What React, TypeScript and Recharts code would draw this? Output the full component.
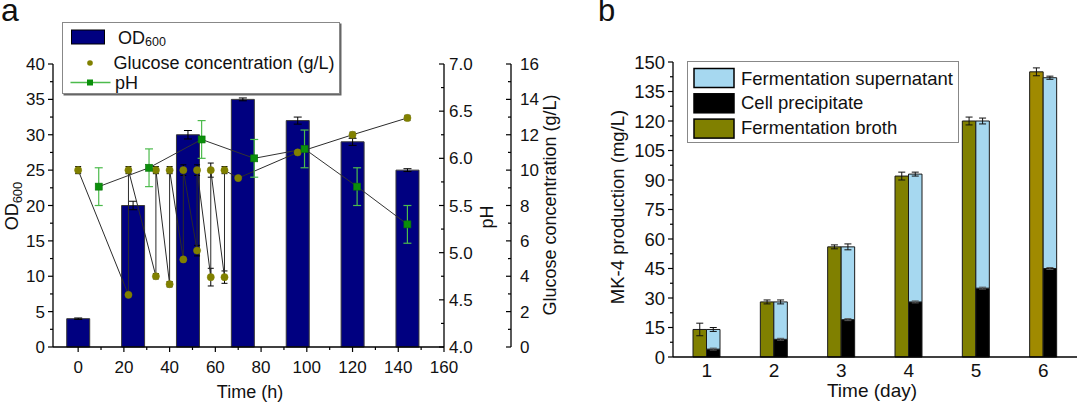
import React from 'react'
import { ComposedChart, BarChart, Bar, Line, XAxis, YAxis, ErrorBar, Legend, Cell } from 'recharts'

const FONT = '"Liberation Sans", Arial, Helvetica, sans-serif'

// ---- panel a: fermentation time course ----
const odTime = [0, 24, 48, 72, 96, 120, 144]
const odValues = [4, 20, 30, 35, 32, 29, 25]
const odErrors = [0.1, 0.6, 0.6, 0.2, 0.5, 0.5, 0.2]

const glucoseTime = [0, 22, 22, 34, 34, 40, 40, 46, 46, 52, 52, 58, 58, 64, 64, 70, 96, 120, 144]
const glucoseValues = [10, 2.95, 10, 4, 10, 3.55, 10, 4.95, 10, 5.45, 10, 3.95, 10, 3.95, 10, 9.55, 11, 12, 12.95]
const glucoseErrors = [0.2, 0.1, 0.2, 0.15, 0.2, 0.15, 0.2, 0.1, 0.3, 0.3, 0.3, 0.5, 0.4, 0.35, 0.2, 0.1, 0.1, 0.15, 0.15]

const phTime = [9, 31, 54, 77, 99, 122, 144]
const phValues = [5.7, 5.9, 6.2, 6.0, 6.1, 5.7, 5.3]
const phErrors = [0.2, 0.2, 0.2, 0.2, 0.2, 0.2, 0.2]

const timeTicks = [0, 10, 20, 30, 40, 50, 60, 70, 80, 90, 100, 110, 120, 130, 140, 150, 160]
const odTicks = [0, 2.5, 5, 7.5, 10, 12.5, 15, 17.5, 20, 22.5, 25, 27.5, 30, 32.5, 35, 37.5, 40]
const phTicks = [4, 4.25, 4.5, 4.75, 5, 5.25, 5.5, 5.75, 6, 6.25, 6.5, 6.75, 7]
const glucoseTicks = [0, 1, 2, 3, 4, 5, 6, 7, 8, 9, 10, 11, 12, 13, 14, 15, 16]

// ---- panel b: MK-4 production ----
const days = ['1', '2', '3', '4', '5', '6']
const brothValues = [14, 28, 56, 92, 120, 145]
const brothErrors = [3.2, 1, 1, 2, 2, 2]
const cellValues = [4, 9, 19, 28, 35, 45]
const cellErrors = [0.5, 0.5, 0.5, 0.5, 0.5, 0.5]
const supernatantValues = [10, 19, 37, 65, 85, 97]
const supernatantErrors = [1, 1, 1.5, 1, 1.5, 0.8]
const mkTicks = [0, 7.5, 15, 22.5, 30, 37.5, 45, 52.5, 60, 67.5, 75, 82.5, 90, 97.5, 105, 112.5, 120, 127.5, 135, 142.5, 150]

const BROTH_COLORS = ['#808000', '#808000', '#808000', '#808000', '#808000', '#a08a00']

const odRows = odTime.map((t, i) => ({ t, od: odValues[i], err: odErrors[i] }))
const glucoseRows = glucoseTime.map((t, i) => ({ t, g: glucoseValues[i], err: glucoseErrors[i] }))
const phRows = phTime.map((t, i) => ({ t, ph: phValues[i], err: phErrors[i] }))
const mkRows = days.map((day, i) => ({
  day,
  broth: brothValues[i],
  brothErr: brothErrors[i],
  cell: cellValues[i],
  cellErr: cellErrors[i],
  sup: supernatantValues[i],
  supErr: supernatantErrors[i],
}))

type TickOpts = {
  side: 'left' | 'right' | 'bottom'
  step: number
  fontSize: number
  gap: number
  fmt?: (v: number) => string
}

const makeTick = (o: TickOpts) => (p: any) => {
  const v = p.payload.value
  const major = Math.abs(v / o.step - Math.round(v / o.step)) < 1e-6
  const len = major ? 5 : 3
  const label = o.fmt ? o.fmt(v) : String(v)
  const { x, y } = p
  if (o.side === 'bottom') {
    return (
      <g>
        <line x1={x} x2={x} y1={y} y2={y + len} stroke="#000" strokeWidth={1.2} />
        {major && (
          <text x={x} y={y + o.gap} textAnchor="middle" fontSize={o.fontSize} fontFamily={FONT} fill="#111">
            {label}
          </text>
        )}
      </g>
    )
  }
  if (o.side === 'left') {
    return (
      <g>
        <line x1={x - len} x2={x} y1={y} y2={y} stroke="#000" strokeWidth={1.2} />
        {major && (
          <text x={x - 5 - o.gap} y={y + o.fontSize * 0.36} textAnchor="end" fontSize={o.fontSize} fontFamily={FONT} fill="#111">
            {label}
          </text>
        )}
      </g>
    )
  }
  // right-hand axes: ticks point into the plot
  return (
    <g>
      <line x1={x - len} x2={x} y1={y} y2={y} stroke="#000" strokeWidth={1.2} />
      {major && (
        <text x={x + o.gap} y={y + o.fontSize * 0.36} textAnchor="start" fontSize={o.fontSize} fontFamily={FONT} fill="#111">
          {label}
        </text>
      )}
    </g>
  )
}

const PhSquare = (p: any) => (
  <rect key={`ph-${p.index}`} x={p.cx - 3.5} y={p.cy - 3.5} width={7} height={7} fill="#0b8f0b" stroke="#077207" strokeWidth={0.6} />
)

const LegendA = () => (
  <svg width={282} height={75} style={{ display: 'block' }}>
    <rect x={1.5} y={1.5} width={278} height={72} fill="#666" />
    <rect x={0.5} y={0.5} width={277} height={71} fill="#fff" stroke="#888" />
    <rect x={9.5} y={8} width={33} height={14} fill="#000080" stroke="#000" />
    <text x={56} y={21.5} fontSize={18} fontFamily={FONT} fill="#111">
      OD<tspan fontSize={12.5} dy={2}>600</tspan>
    </text>
    <circle cx={28} cy={41} r={2.8} fill="#808000" />
    <text x={51.5} y={46.5} fontSize={18} fontFamily={FONT} fill="#111">Glucose concentration (g/L)</text>
    <line x1={8.5} x2={48.5} y1={60.5} y2={60.5} stroke="#4cbb4c" strokeWidth={1.5} />
    <rect x={25} y={57.5} width={6} height={6} fill="#0b8f0b" />
    <text x={53} y={67} fontSize={18} fontFamily={FONT} fill="#111">pH</text>
  </svg>
)

const LegendB = () => {
  const items = [
    { fill: '#a6d8f0', text: 'Fermentation supernatant' },
    { fill: '#000', text: 'Cell precipitate' },
    { fill: '#808000', text: 'Fermentation broth' },
  ]
  return (
    <svg width={273} height={83} style={{ display: 'block' }}>
      <rect x={0.5} y={0.5} width={271} height={81} fill="#fff" stroke="#888" />
      {items.map((it, i) => (
        <g key={it.text}>
          <rect x={7} y={7.5 + i * 25.3} width={40} height={19} fill={it.fill} stroke="#000" strokeWidth={1.5} />
          <text x={54} y={23.5 + i * 24.7} fontSize={18.5} fontFamily={FONT} fill="#111">{it.text}</text>
        </g>
      ))}
    </svg>
  )
}

const labelStyle = { fontFamily: FONT, fill: '#111' }

export default function App() {
  return (
    <div style={{ position: 'absolute', left: 0, top: 0, width: 1080, height: 402, background: '#fff', fontFamily: FONT }}>
      <div style={{ position: 'absolute', left: 0, top: 0 }}>
        <ComposedChart width={580} height={402} data={odRows} margin={{ top: 64, right: 0, bottom: 0, left: 0 }}>
          <XAxis
            xAxisId="bar"
            dataKey="t"
            type="number"
            domain={[-11, 160]}
            allowDataOverflow
            ticks={timeTicks}
            interval={0}
            height={55}
            tickSize={0}
            tickMargin={0}
            tickLine={false}
            axisLine={{ stroke: '#000', strokeWidth: 1.3 }}
            tick={makeTick({ side: 'bottom', step: 20, fontSize: 17, gap: 25.5 })}
            label={{
              content: () => (
                <text x={250} y={398} textAnchor="middle" fontSize={18} {...labelStyle}>Time (h)</text>
              ),
            }}
          />
          <XAxis xAxisId="pt" dataKey="t" type="number" domain={[-11, 160]} allowDataOverflow hide />
          <YAxis
            yAxisId="l0od"
            orientation="left"
            width={53}
            domain={[0, 40]}
            ticks={odTicks}
            interval={0}
            tickSize={0}
            tickMargin={0}
            tickLine={false}
            axisLine={{ stroke: '#000', strokeWidth: 1.3 }}
            tick={makeTick({ side: 'left', step: 5, fontSize: 17, gap: 3 })}
            label={{
              content: () => (
                <text transform="translate(18,206) rotate(-90)" textAnchor="middle" fontSize={18} {...labelStyle}>
                  OD<tspan fontSize={13} dy={4}>600</tspan>
                </text>
              ),
            }}
          />
          <YAxis
            yAxisId="r1ph"
            orientation="right"
            width={67}
            domain={[4, 7]}
            ticks={phTicks}
            interval={0}
            tickSize={0}
            tickMargin={0}
            tickLine={false}
            axisLine={{ stroke: '#000', strokeWidth: 1.3 }}
            tick={makeTick({ side: 'right', step: 0.5, fontSize: 17, gap: 5, fmt: (v) => v.toFixed(1) })}
            label={{
              content: () => (
                <text transform="translate(493,217) rotate(-90)" textAnchor="middle" fontSize={18} {...labelStyle}>pH</text>
              ),
            }}
          />
          <YAxis
            yAxisId="r2glu"
            orientation="right"
            width={69}
            domain={[0, 16]}
            ticks={glucoseTicks}
            interval={0}
            tickSize={0}
            tickMargin={0}
            tickLine={false}
            axisLine={{ stroke: '#000', strokeWidth: 1.3 }}
            tick={makeTick({ side: 'right', step: 2, fontSize: 17, gap: 9 })}
            label={{
              content: () => (
                <text transform="translate(556,205) rotate(-90)" textAnchor="middle" fontSize={18} {...labelStyle}>
                  Glucose concentration (g/L)
                </text>
              ),
            }}
          />
          <Bar xAxisId="bar" yAxisId="l0od" dataKey="od" barSize={23} fill="#000080" stroke="#3a3a3a" strokeWidth={1} isAnimationActive={false}>
            <ErrorBar dataKey="err" direction="y" width={4} stroke="#000" strokeWidth={1} />
          </Bar>
          <Line
            xAxisId="pt"
            yAxisId="r2glu"
            data={glucoseRows}
            dataKey="g"
            type="linear"
            stroke="#2b2b2b"
            strokeWidth={1}
            dot={{ r: 3.6, fill: '#808000', stroke: '#808000', strokeWidth: 0.5 }}
            activeDot={false}
            isAnimationActive={false}
          >
            <ErrorBar dataKey="err" direction="y" width={3} stroke="#000" strokeWidth={1} />
          </Line>
          <Line
            xAxisId="pt"
            yAxisId="r1ph"
            data={phRows}
            dataKey="ph"
            type="linear"
            stroke="#333"
            strokeWidth={1}
            dot={PhSquare}
            activeDot={false}
            isAnimationActive={false}
          >
            <ErrorBar dataKey="err" direction="y" width={4} stroke="#4cbb4c" strokeWidth={1.2} />
          </Line>
          <Legend
            layout="horizontal"
            verticalAlign="middle"
            align="center"
            content={LegendA}
            wrapperStyle={{ left: 62, top: 22, width: 282, height: 75 }}
          />
        </ComposedChart>
        <div style={{ position: 'absolute', left: 1, top: -8, fontSize: 32, fontFamily: FONT, color: '#111' }}>a</div>
      </div>

      <div style={{ position: 'absolute', left: 560, top: 0 }}>
        <BarChart width={520} height={402} data={mkRows} margin={{ top: 62, right: 3, bottom: 0, left: 0 }} barGap={0}>
          <XAxis
            dataKey="day"
            height={45}
            tickSize={0}
            tickMargin={0}
            tickLine={false}
            axisLine={{ stroke: '#000', strokeWidth: 1.3 }}
            tick={(p: any) => (
              <text x={p.x} y={p.y + 19.5} textAnchor="middle" fontSize={19} fontFamily={FONT} fill="#111">
                {p.payload.value}
              </text>
            )}
            label={{
              content: () => (
                <text x={312} y={397} textAnchor="middle" fontSize={19} {...labelStyle}>Time (day)</text>
              ),
            }}
          />
          <YAxis
            width={113}
            domain={[0, 150]}
            ticks={mkTicks}
            interval={0}
            tickSize={0}
            tickMargin={0}
            tickLine={false}
            axisLine={{ stroke: '#000', strokeWidth: 1.3 }}
            tick={makeTick({ side: 'left', step: 15, fontSize: 18.5, gap: 3 })}
            label={{
              content: () => (
                <text transform="translate(63.5,207) rotate(-90)" textAnchor="middle" fontSize={18.5} {...labelStyle}>
                  MK-4 production (mg/L)
                </text>
              ),
            }}
          />
          <Bar dataKey="broth" stackId="b" barSize={13.5} stroke="#1a1a1a" strokeWidth={1} isAnimationActive={false}>
            {mkRows.map((r, i) => (
              <Cell key={r.day} fill={BROTH_COLORS[i]} />
            ))}
            <ErrorBar dataKey="brothErr" direction="y" width={3.5} stroke="#111" strokeWidth={1} />
          </Bar>
          <Bar dataKey="cell" stackId="s" barSize={13.5} fill="#000" stroke="#1a1a1a" strokeWidth={1} isAnimationActive={false}>
            <ErrorBar dataKey="cellErr" direction="y" width={3.5} stroke="#555" strokeWidth={1} />
          </Bar>
          <Bar dataKey="sup" stackId="s" barSize={13.5} fill="#a6d8f0" stroke="#1a1a1a" strokeWidth={1} isAnimationActive={false}>
            <ErrorBar dataKey="supErr" direction="y" width={3.5} stroke="#111" strokeWidth={1} />
          </Bar>
          <Legend
            layout="horizontal"
            verticalAlign="middle"
            align="center"
            content={LegendB}
            wrapperStyle={{ left: 127, top: 61, width: 273, height: 83 }}
          />
        </BarChart>
        <div style={{ position: 'absolute', left: 38, top: -7, fontSize: 31, fontFamily: FONT, color: '#111' }}>b</div>
      </div>
    </div>
  )
}
